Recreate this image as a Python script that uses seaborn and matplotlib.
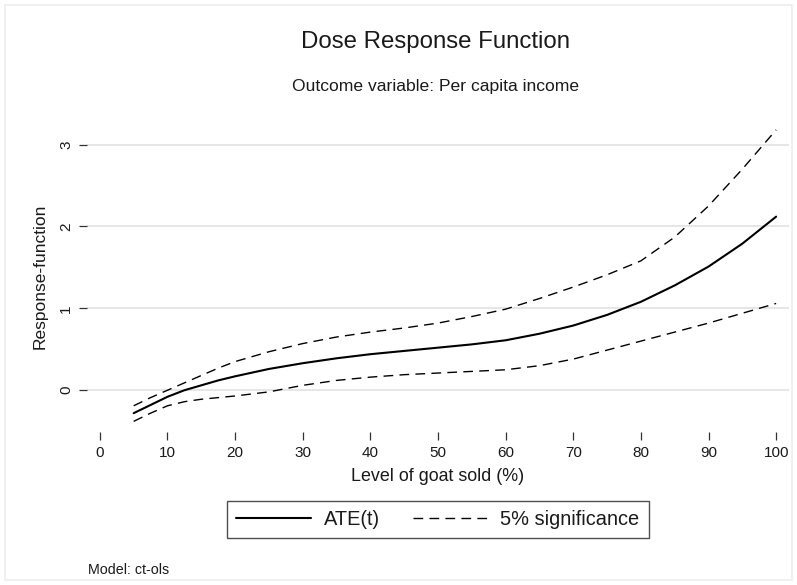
"""
Dose response function: ATE(t) with 5% significance bands.
"""

import matplotlib

matplotlib.use("Agg")
import matplotlib.pyplot as plt
import seaborn as sns
import pandas as pd
from matplotlib.patches import Rectangle

# Data ---------------------------------------------------------------------------------
goat_sold = [5, 7.5, 10, 12.5, 15, 17.5, 20, 25, 30, 35, 40, 45, 50, 55, 60, 65, 70,
             75, 80, 85, 90, 95, 100]
ate = [-0.28, -0.18, -0.08, 0.00, 0.06, 0.12, 0.17, 0.26, 0.33, 0.39, 0.44, 0.48,
       0.52, 0.56, 0.61, 0.69, 0.79, 0.92, 1.08, 1.28, 1.51, 1.79, 2.12]
upper = [-0.19, -0.09, 0.00, 0.09, 0.18, 0.27, 0.35, 0.47, 0.57, 0.65, 0.71, 0.76,
         0.82, 0.90, 0.99, 1.12, 1.26, 1.41, 1.58, 1.87, 2.25, 2.70, 3.18]
lower = [-0.38, -0.28, -0.19, -0.14, -0.11, -0.09, -0.07, -0.02, 0.06, 0.12, 0.16,
         0.19, 0.21, 0.23, 0.25, 0.30, 0.38, 0.49, 0.60, 0.71, 0.82, 0.94, 1.06]
x_ticks = [0, 10, 20, 30, 40, 50, 60, 70, 80, 90, 100]
y_ticks = [0, 1, 2, 3]

df = pd.DataFrame({"x": goat_sold, "ate": ate, "upper": upper, "lower": lower})

# Style --------------------------------------------------------------------------------
sns.set_theme(style="white")
plt.rcParams["font.family"] = ["Liberation Sans", "DejaVu Sans"]
text_color = "#1a1a1a"

fig = plt.figure(figsize=(7.97, 5.85), dpi=100)
ax = fig.add_axes([87 / 797, 1 - 432 / 585, (789 - 87) / 797, (432 - 120) / 585])

# Lines
sns.lineplot(data=df, x="x", y="ate", ax=ax, color="black", lw=1.5, label="ATE(t)")
sns.lineplot(data=df, x="x", y="upper", ax=ax, color="black", lw=1.0,
             label="5% significance").lines[-1].set_dashes((7, 4.5))
sns.lineplot(data=df, x="x", y="lower", ax=ax, color="black", lw=1.0,
             label="_nolegend_").lines[-1].set_dashes((7, 4.5))

# Axes
ax.set_xlim(-1.9, 101.9)
ax.set_ylim(-0.51, 3.30)
ax.set_xticks(x_ticks)
ax.set_yticks(y_ticks)
for s in ax.spines.values():
    s.set_visible(False)
ax.grid(axis="y", color="#e4e4e4", lw=1.3)
ax.grid(axis="x", visible=False)
ax.tick_params(axis="both", which="major", direction="out", length=6, width=0.9,
               color="#333333", labelsize=11, labelcolor=text_color, pad=4,
               bottom=True, left=True)
for lab in ax.get_yticklabels():
    lab.set_rotation(90)
    lab.set_va("center")

ax.set_xlabel("Level of goat sold (%)", fontsize=12.9, color=text_color, labelpad=6)
ax.set_ylabel("Response-function", fontsize=12.5, color=text_color, labelpad=8)

# Titles
fig.text(436 / 797, 1 - 42 / 585, "Dose Response Function", ha="center", va="center",
         fontsize=17.3, color=text_color)
fig.text(436 / 797, 1 - 86 / 585, "Outcome variable: Per capita income", ha="center",
         va="center", fontsize=12.6, color=text_color)

# Legend
handles, labels = ax.get_legend_handles_labels()
ax.get_legend().remove()
leg = fig.legend(handles, labels, loc="center", bbox_to_anchor=(438 / 797, 1 - 519.5 / 585),
                 ncol=2, frameon=True, fancybox=False, shadow=False, fontsize=14.4,
                 handlelength=3.75, columnspacing=1.6, handletextpad=0.65,
                 borderpad=0.45, borderaxespad=0, edgecolor="#222222")
leg.get_frame().set_linewidth(1.0)
for t in leg.get_texts():
    t.set_color(text_color)

# Note
fig.text(88 / 797, 1 - 570 / 585, "Model: ct-ols", ha="left", va="center",
         fontsize=10.3, color=text_color)

# Outer frame
fig.patches.append(Rectangle((5 / 797, 5 / 585), 787 / 797, 575 / 585,
                             transform=fig.transFigure, fill=False,
                             edgecolor="#eeeeee", lw=1.2))

fig.savefig("out.png", dpi=100)
